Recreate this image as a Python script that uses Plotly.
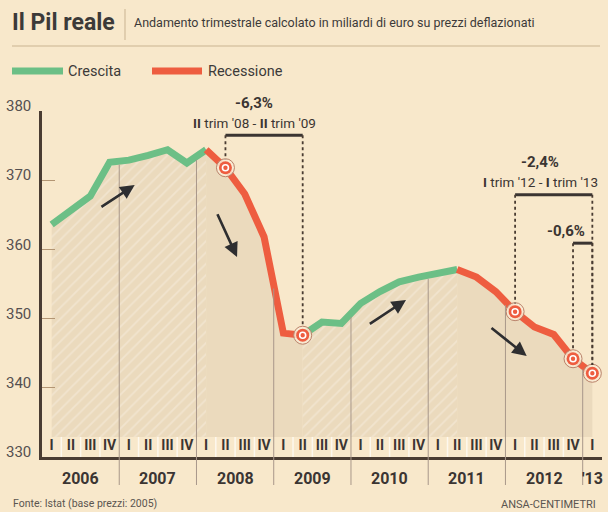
import plotly.graph_objects as go

# ---------------- data ----------------
years = ["2006", "2007", "2008", "2009", "2010", "2011", "2012", "'13"]
quarter_labels = ["I", "II", "III", "IV"] * 7 + ["I"]
pil = [363.6, 365.7, 367.7, 372.6, 372.9, 373.6, 374.4, 372.5, 374.4,
       371.8, 368.0, 361.8, 347.9, 347.6, 349.5, 349.3, 352.2, 353.9,
       355.3, 356.0, 356.5, 357.1, 356.0, 353.9, 351.0, 348.8, 347.7,
       344.2, 342.1]
# phases: (start index, end index, kind)
phases = [(0, 8, "Crescita"), (8, 13, "Recessione"),
          (13, 21, "Crescita"), (21, 28, "Recessione")]
marked = [9, 13, 24, 27, 28]
y_ticks = [330, 340, 350, 360, 370, 380]
brackets = [  # (from idx, to idx, level, pct, period)
    (9, 13, 376.5, "-6,3%", "<b>II</b> trim '08 - <b>II</b> trim '09"),
    (24, 28, 367.9, "-2,4%", "<b>I</b> trim '12 - <b>I</b> trim '13"),
    (27, 28, 360.9, "-0,6%", ""),
]

# ---------------- style ----------------
BG = "#f8e8cb"
FILL = "#ebdabd"
STRIPE = "#f7eee0"
GREEN = "#6cbf86"
RED = "#ee5d40"
DARK = "#3b3532"
AXIS = "#4a3c32"
FONT = "Roboto, Liberation Sans, sans-serif"
W, H = 608, 512
L, R, T, B = 42, 6, 111, 55
PW, PH = W - L - R, H - T - B
YMIN, YMAX = 330, 380
BAND = 332.9

def px(x):
    return (x - L) / PW

def py(y):
    return (H - B - y) / PH

def vy(v):
    return (v - YMIN) / (YMAX - YMIN)

n = len(pil)
ks = list(range(n))
fig = go.Figure()

# area fills
for a, b, kind in phases:
    xs = ks[a:b + 1]
    ys = pil[a:b + 1]
    poly_x = xs + xs[::-1]
    poly_y = ys + [BAND] * len(xs)
    if kind == "Crescita":
        fig.add_trace(go.Scatter(x=poly_x, y=poly_y, fill="toself", mode="none",
                                 fillcolor=FILL,
                                 fillpattern=dict(shape="/", bgcolor=FILL, fgcolor=STRIPE,
                                                  size=8, solidity=0.22),
                                 hoverinfo="skip", showlegend=False))
    else:
        fig.add_trace(go.Scatter(x=poly_x, y=poly_y, fill="toself", mode="none",
                                 fillcolor=FILL, hoverinfo="skip", showlegend=False))

shapes = []
# year separators
for j in range(1, len(years)):
    bnd = 4 * j - 0.5
    i0 = int(bnd)
    v = (pil[i0] + pil[i0 + 1]) / 2
    shapes.append(dict(type="line", xref="x", yref="paper", x0=bnd, x1=bnd,
                       y0=py(485), y1=vy(v - 0.5), line=dict(color="#a8978a", width=1),
                       layer="above"))
# quarter separators inside label band
for k in range(n - 1):
    if (k + 1) % 4 != 0:
        shapes.append(dict(type="line", xref="x", yref="y", x0=k + 0.5, x1=k + 0.5,
                           y0=YMIN, y1=BAND, line=dict(color="#fdf8ee", width=1.5),
                           layer="above"))

# lines
for a, b, kind in phases:
    fig.add_trace(go.Scatter(x=ks[a:b + 1], y=pil[a:b + 1], mode="lines",
                             line=dict(color=GREEN if kind == "Crescita" else RED,
                                       width=7), hoverinfo="skip", showlegend=False))

# brackets
for a, b, lev, pct, per in brackets:
    shapes.append(dict(type="line", xref="x", yref="y", x0=a, x1=b, y0=lev, y1=lev,
                       line=dict(color=DARK, width=3), layer="above"))
    for k in (a, b):
        shapes.append(dict(type="line", xref="x", yref="y", x0=k, x1=k, y0=lev,
                           y1=pil[k] + 1.2, line=dict(color=AXIS, width=1.8, dash="dot"),
                           layer="above"))

# markers
mx = [ks[i] for i in marked]
my = [pil[i] for i in marked]
fig.add_trace(go.Scatter(x=mx, y=my, mode="markers", cliponaxis=False,
                         marker=dict(size=18, color="rgba(250,236,214,0.85)",
                                     line=dict(color="#b9826a", width=1)),
                         hoverinfo="skip", showlegend=False))
fig.add_trace(go.Scatter(x=mx, y=my, mode="markers", cliponaxis=False,
                         marker=dict(size=13, color=RED, line=dict(width=0)),
                         hoverinfo="skip", showlegend=False))
fig.add_trace(go.Scatter(x=mx, y=my, mode="markers", cliponaxis=False,
                         marker=dict(size=6, color=RED, line=dict(color="white", width=1.6)),
                         hoverinfo="skip", showlegend=False))

# quarter labels
fig.add_trace(go.Scatter(x=ks, y=[(YMIN + BAND) / 2] * n, mode="text",
                         text=quarter_labels, cliponaxis=False,
                         textfont=dict(family=FONT, size=14, color=DARK, weight="bold"),
                         hoverinfo="skip", showlegend=False))

ann = []
# year labels
for j, yl in enumerate(years):
    c = 4 * j + 1.5 if j < len(years) - 1 else 4 * j
    ann.append(dict(x=c, y=py(478), xref="x", yref="paper", yanchor="middle",
                    text=f"<b>{yl}</b>", showarrow=False,
                    font=dict(family=FONT, size=16, color=DARK)))

# bracket texts
ann += [
    dict(x=10.5, y=vy(381.1), text="<b>-6,3%</b>", font=dict(family=FONT, size=15, color=DARK)),
    dict(x=10.5, y=vy(378.2), text=brackets[0][4], font=dict(family=FONT, size=13.5, color=DARK)),
    dict(x=25.3, y=vy(372.7), text="<b>-2,4%</b>", font=dict(family=FONT, size=15, color=DARK)),
    dict(x=25.3, y=vy(369.7), text=brackets[1][4], font=dict(family=FONT, size=13.5, color=DARK)),
    dict(x=27.7, y=vy(362.6), text="<b>-0,6%</b>", xanchor="right",
         font=dict(family=FONT, size=15, color=DARK)),
]
for a_ in ann[-5:]:
    a_.update(xref="x", yref="paper", yanchor="middle", showarrow=False)

# trend arrows
arrows = [((2.5, 366.0), (4.3, 369.3)), ((8.55, 365.3), (9.6, 358.9)),
          ((16.4, 349.1), (18.35, 352.7)), ((22.7, 348.8), (24.6, 344.6))]
for (tx, ty), (hx, hy) in arrows:
    ann.append(dict(x=hx, y=hy, ax=tx, ay=ty, xref="x", yref="y", axref="x", ayref="y",
                    showarrow=True, arrowhead=2, arrowsize=1.1, arrowwidth=2.6,
                    arrowcolor="#2e2e30", text=""))

# title, subtitle, legend, footer
ann += [
    dict(x=px(10), y=py(23), xref="paper", yref="paper", xanchor="left", yanchor="middle",
         text="<b>Il Pil reale</b>", showarrow=False,
         font=dict(family=FONT, size=23, color="#3c3a39")),
    dict(x=px(132), y=py(23), xref="paper", yref="paper", xanchor="left", yanchor="middle",
         text="Andamento trimestrale calcolato in miliardi di euro su prezzi deflazionati",
         showarrow=False, font=dict(family=FONT, size=12.5, color="#3c3a39")),
    dict(x=px(66), y=py(71), xref="paper", yref="paper", xanchor="left", yanchor="middle",
         text="Crescita", showarrow=False, font=dict(family=FONT, size=14.5, color="#3c3a39")),
    dict(x=px(206), y=py(71), xref="paper", yref="paper", xanchor="left", yanchor="middle",
         text="Recessione", showarrow=False, font=dict(family=FONT, size=14.5, color="#3c3a39")),
    dict(x=px(11), y=py(503), xref="paper", yref="paper", xanchor="left", yanchor="middle",
         text="Fonte: Istat (base prezzi: 2005)", showarrow=False,
         font=dict(family=FONT, size=10.5, color="#5a5550")),
    dict(x=px(598), y=py(504), xref="paper", yref="paper", xanchor="right", yanchor="middle",
         text="ANSA-CENTIMETRI", showarrow=False,
         font=dict(family=FONT, size=11, color="#5a5550")),
]
shapes += [
    dict(type="line", xref="paper", yref="paper", x0=px(125), x1=px(125),
         y0=py(9), y1=py(40), line=dict(color="#c9b391", width=1)),
    dict(type="line", xref="paper", yref="paper", x0=px(12), x1=px(600),
         y0=py(46), y1=py(46), line=dict(color="#c9b391", width=1.2)),
    dict(type="line", xref="paper", yref="paper", x0=px(12), x1=px(63),
         y0=py(71), y1=py(71), line=dict(color=GREEN, width=7)),
    dict(type="line", xref="paper", yref="paper", x0=px(152), x1=px(202),
         y0=py(71), y1=py(71), line=dict(color=RED, width=7)),
]

fig.update_layout(
    width=W, height=H, margin=dict(l=L, r=R, t=T, b=B),
    paper_bgcolor=BG, plot_bgcolor=BG, showlegend=False,
    annotations=ann, shapes=shapes,
    xaxis=dict(range=[-0.5, n - 0.5], showgrid=False, zeroline=False, showticklabels=False,
               ticks="", showline=True, linecolor=AXIS, linewidth=2.5, fixedrange=True),
    yaxis=dict(range=[YMIN, YMAX], showgrid=False, zeroline=False, tickvals=y_ticks,
               ticks="inside", ticklen=13, tickwidth=1.3, tickcolor="#b39573",
               showline=True, linecolor=AXIS, linewidth=2.5, ticklabelshift=-5,
               ticklabelstandoff=5,
               tickfont=dict(family=FONT, size=15, color="#555050"), fixedrange=True),
)

fig.write_html("out.html", config={"displayModeBar": False},
               post_script="document.body.style.margin='0';document.body.style.padding='0';"
                           "document.body.style.background='" + BG + "';")
